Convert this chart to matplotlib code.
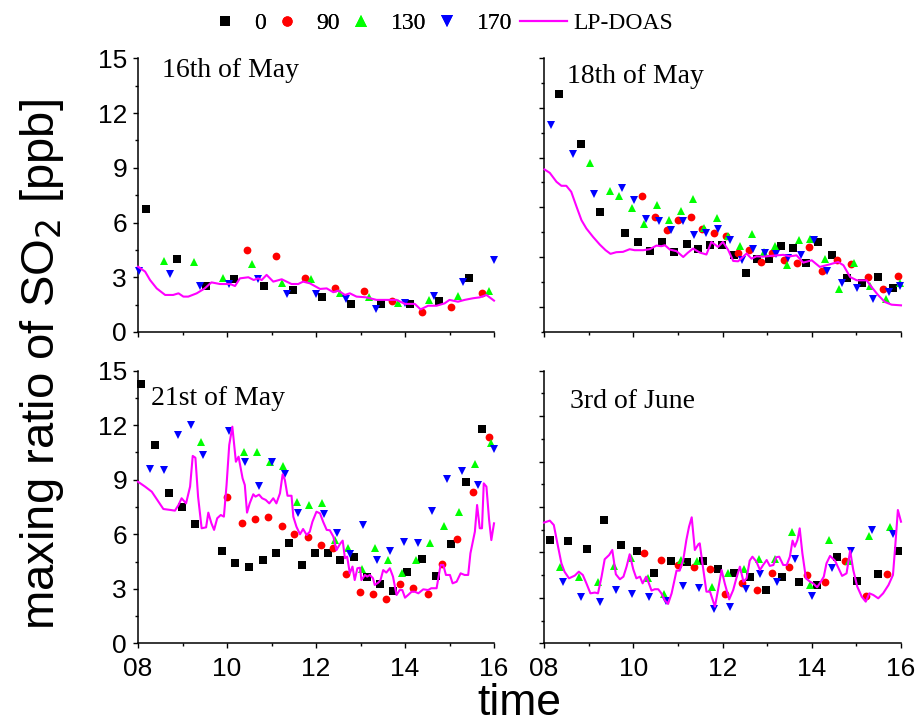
import matplotlib
matplotlib.use("Agg")
import matplotlib.pyplot as plt
from matplotlib.lines import Line2D
from matplotlib.ticker import MultipleLocator, FixedLocator

# ---------------- data ----------------
series_labels = ["0", "90", "130", "170", "LP-DOAS"]
panel_titles = ["16th of May", "18th of May", "21st of May", "3rd of June"]
xtick_vals = [8, 10, 12, 14, 16]
xtick_labels = ["08", "10", "12", "14", "16"]

# 16th of May
may16_t0 = [8.18, 8.87, 9.53, 10.16, 10.83, 11.49, 12.14, 12.79, 13.45, 14.11, 14.77, 15.44]
may16_v0 = [6.75, 4.02, 2.54, 2.91, 2.50, 2.30, 1.92, 1.52, 1.52, 1.54, 1.70, 2.94]
may16_t90 = [10.44, 11.09, 11.75, 12.42, 13.07, 13.71, 14.38, 15.04, 15.73]
may16_v90 = [4.48, 4.17, 2.94, 2.39, 2.25, 1.72, 1.12, 1.39, 2.12]
may16_t130 = [8.58, 9.26, 9.91, 10.57, 11.23, 11.88, 12.54, 13.19, 13.85, 14.53, 15.18, 15.89]
may16_v130 = [3.88, 3.82, 2.96, 3.71, 2.67, 2.89, 2.12, 1.94, 1.57, 1.77, 1.97, 2.27]
may16_t170 = [8.03, 8.72, 9.39, 10.05, 10.70, 11.34, 12.01, 12.67, 13.34, 14.00, 14.65, 15.31, 16.00]
may16_v170 = [3.36, 3.16, 2.52, 2.65, 2.89, 2.08, 2.08, 1.79, 1.24, 1.57, 1.99, 2.76, 3.97]
may16_tl = [8.0, 8.16, 8.27, 8.42, 8.61, 8.79, 8.91, 9.02, 9.13, 9.32, 9.50, 9.65, 9.84, 10.07, 10.18,
            10.29, 10.48, 10.60, 10.70, 10.78, 10.89, 11.04, 11.23, 11.45, 11.60, 11.71, 11.86, 12.09,
            12.24, 12.39, 12.50, 12.65, 12.76, 12.91, 13.13, 13.36, 13.58, 13.81, 14.0, 14.22, 14.35,
            14.52, 14.71, 14.89, 15.0, 15.19, 15.34, 15.53, 15.68, 15.83, 16.0]
may16_vl = [3.58, 3.31, 2.85, 2.39, 2.03, 2.03, 2.12, 1.94, 1.94, 2.12, 2.39, 2.72, 2.63, 2.63, 2.52,
            2.94, 3.00, 2.85, 2.94, 2.85, 3.13, 2.76, 2.89, 2.63, 2.63, 2.76, 2.67, 2.36, 2.39, 2.18,
            2.27, 2.03, 2.12, 1.94, 1.90, 1.76, 1.76, 1.76, 1.54, 1.54, 1.24, 1.44, 1.44, 1.57, 1.76,
            1.66, 1.76, 1.85, 1.90, 2.03, 1.72]

# 18th of May
may18_t0 = [8.34, 8.82, 9.26, 9.82, 10.10, 10.38, 10.65, 10.92, 11.20, 11.46, 11.72, 11.98, 12.25,
            12.52, 12.77, 13.04, 13.31, 13.59, 13.86, 14.15, 14.45, 14.78, 15.13, 15.49, 15.81]
may18_v0 = [12.82, 9.82, 5.69, 4.42, 3.93, 3.37, 3.89, 3.33, 3.79, 3.49, 3.71, 3.75, 3.15, 2.06,
            2.90, 2.86, 3.69, 3.55, 2.62, 3.93, 3.10, 1.75, 1.43, 1.77, 1.15]
may18_t90 = [10.20, 10.48, 10.75, 11.01, 11.29, 11.55, 11.81, 12.07, 12.34, 12.60, 12.87, 13.12,
             13.38, 13.66, 13.94, 14.24, 14.56, 14.88, 15.25, 15.60, 15.93]
may18_v90 = [6.69, 5.42, 4.62, 5.24, 5.42, 4.72, 4.44, 4.29, 3.27, 3.45, 2.70, 3.27, 2.82, 2.66,
             3.59, 2.16, 2.80, 2.56, 1.77, 1.05, 1.85]
may18_t130 = [9.03, 9.47, 9.68, 9.97, 10.24, 10.53, 10.80, 11.08, 11.34, 11.59, 11.87, 12.13, 12.39,
              12.65, 12.92, 13.18, 13.44, 13.71, 13.97, 14.30, 14.62, 14.95, 15.30, 15.66, 15.98]
may18_v130 = [8.69, 7.00, 6.67, 5.97, 5.02, 6.15, 5.26, 5.77, 6.49, 4.74, 5.36, 4.29, 3.67, 4.40,
              3.33, 3.69, 2.50, 4.05, 4.09, 2.86, 1.09, 2.64, 1.25, 0.44, 1.45]
may18_t170 = [8.16, 8.64, 9.11, 9.74, 10.01, 10.29, 10.57, 10.84, 11.11, 11.37, 11.64, 11.90, 12.17,
              12.43, 12.69, 12.96, 13.21, 13.47, 13.76, 14.05, 14.35, 14.67, 15.02, 15.38, 15.72, 15.98]
may18_v170 = [10.95, 9.19, 6.83, 7.16, 6.47, 5.30, 5.20, 4.60, 5.16, 4.35, 4.46, 4.70, 4.01, 2.80,
              3.47, 3.27, 3.17, 2.94, 3.10, 4.03, 2.16, 1.45, 1.13, 0.44, 0.89, 1.25]
may18_tl = [8.01, 8.13, 8.28, 8.39, 8.50, 8.61, 8.73, 8.84, 8.95, 9.10, 9.25, 9.38, 9.49, 9.62, 9.77,
            9.92, 10.03, 10.22, 10.37, 10.52, 10.63, 10.71, 10.82, 10.97, 11.12, 11.22, 11.34, 11.49,
            11.64, 11.75, 11.90, 12.01, 12.13, 12.24, 12.35, 12.54, 12.65, 12.76, 12.91, 13.14, 13.36,
            13.51, 13.66, 13.81, 14.0, 14.18, 14.41, 14.59, 14.71, 14.86, 15.01, 15.23, 15.34, 15.49,
            15.64, 15.79, 16.0]
may18_vl = [8.29, 8.08, 7.54, 7.30, 7.30, 6.94, 6.03, 5.22, 4.72, 4.21, 3.75, 3.41, 3.19, 3.29, 3.31,
            3.47, 3.41, 3.41, 3.47, 3.69, 3.65, 3.71, 3.45, 3.35, 3.00, 3.25, 3.51, 3.27, 3.15, 3.91,
            3.61, 3.91, 3.41, 2.76, 2.74, 3.21, 2.90, 3.04, 3.02, 3.08, 3.13, 3.04, 3.10, 2.66, 2.80,
            2.40, 2.56, 2.70, 2.50, 1.79, 1.59, 1.59, 1.19, 0.69, 0.28, 0.12, 0.08]

# 21st of May
may21_t0 = [8.07, 8.38, 8.69, 8.98, 9.28, 9.89, 10.19, 10.50, 10.80, 11.09, 11.40, 11.68, 11.97,
            12.27, 12.55, 12.85, 13.15, 13.44, 13.73, 14.05, 14.38, 14.69, 15.03, 15.37, 15.72]
may21_v0 = [14.27, 10.93, 8.27, 7.48, 6.55, 5.08, 4.42, 4.20, 4.58, 4.99, 5.50, 4.33, 4.99, 4.95,
            4.58, 4.77, 3.65, 3.26, 2.88, 3.92, 4.66, 3.72, 5.45, 8.88, 11.77]
may21_t90 = [10.01, 10.33, 10.63, 10.93, 11.23, 11.51, 11.81, 12.11, 12.39, 12.68, 12.98, 13.28,
             13.58, 13.88, 14.19, 14.52, 14.84, 15.17, 15.52, 15.89]
may21_v90 = [8.03, 6.62, 6.84, 6.93, 6.47, 6.01, 5.85, 5.43, 5.26, 3.83, 2.84, 2.73, 2.44, 3.28,
             3.03, 2.73, 4.38, 5.74, 8.34, 11.35]
may21_t130 = [9.41, 10.38, 10.67, 10.96, 11.26, 11.57, 11.85, 12.14, 12.42, 12.73, 13.04, 13.33,
              13.62, 13.94, 14.24, 14.56, 14.88, 15.22, 15.58, 15.94]
may21_v130 = [11.06, 10.51, 10.51, 9.99, 9.74, 7.78, 7.63, 7.70, 5.68, 5.26, 4.07, 5.24, 4.58, 3.87,
              4.58, 5.50, 6.47, 7.24, 9.87, 11.00]
may21_t170 = [8.28, 8.58, 8.89, 9.18, 9.47, 10.05, 10.41, 10.71, 11.00, 11.30, 11.59, 12.19, 12.48,
              12.77, 13.06, 13.36, 13.66, 13.97, 14.29, 14.61, 14.95, 15.28, 15.63, 15.99]
may21_v170 = [9.61, 9.54, 11.48, 12.03, 10.38, 11.70, 9.96, 8.67, 9.98, 9.32, 7.19, 7.12, 6.05, 4.93,
              6.51, 4.60, 5.10, 5.59, 5.52, 7.26, 9.04, 9.46, 8.69, 10.71]
may21_tl = [8.0, 8.16, 8.31, 8.46, 8.57, 8.72, 8.83, 8.91, 8.98, 9.08,
            9.17, 9.23, 9.29, 9.35, 9.43, 9.53, 9.58, 9.65, 9.71, 9.78,
            9.86, 9.93, 9.99, 10.05, 10.12, 10.20, 10.26, 10.35, 10.40, 10.45,
            10.51, 10.59, 10.64, 10.72, 10.79, 10.87, 10.95, 11.04, 11.11, 11.19,
            11.25, 11.30, 11.36, 11.45, 11.49, 11.56, 11.64, 11.71, 11.79, 11.86,
            11.92, 12.01, 12.09, 12.16, 12.24, 12.31, 12.39, 12.46, 12.54, 12.60,
            12.65, 12.70, 12.76, 12.82, 12.87, 12.93, 12.99, 13.02, 13.10, 13.15,
            13.21, 13.28, 13.32, 13.40, 13.45, 13.51, 13.58, 13.66, 13.73, 13.81,
            13.88, 13.94, 14.0, 14.07, 14.15, 14.22, 14.30, 14.41, 14.52, 14.59,
            14.71, 14.80, 14.86, 14.92, 15.01, 15.07, 15.16, 15.25, 15.34, 15.42,
            15.47, 15.57, 15.62, 15.68, 15.73, 15.77, 15.83, 15.89, 15.94, 16.0]
may21_vl = [8.89, 8.62, 8.34, 7.79, 7.39, 7.34, 7.30, 7.61, 7.98, 7.70,
            8.62, 10.31, 10.21, 8.07, 6.33, 6.38, 7.19, 6.60, 6.24, 6.88,
            7.06, 6.97, 8.71, 10.91, 11.92, 9.99, 10.27, 9.08, 8.71, 7.19,
            7.70, 8.20, 8.07, 8.18, 7.98, 7.89, 7.70, 7.98, 7.70, 8.25,
            9.30, 8.99, 8.12, 8.12, 6.97, 6.42, 6.00, 6.29, 5.96, 6.14,
            6.69, 7.24, 7.15, 6.69, 6.24, 6.22, 5.87, 5.13, 5.47, 5.65,
            4.68, 4.77, 3.85, 4.22, 3.48, 4.13, 4.16, 3.48, 3.76, 3.67,
            3.76, 3.58, 3.21, 3.34, 3.48, 4.03, 3.89, 4.13, 3.67, 2.66,
            2.93, 2.93, 2.51, 2.66, 2.84, 2.84, 2.75, 2.97, 2.93, 3.03,
            3.03, 4.31, 4.31, 3.76, 3.76, 3.30, 3.39, 3.85, 3.76, 3.76,
            4.95, 6.14, 7.61, 6.33, 6.33, 8.80, 8.62, 6.79, 5.68, 6.60]

# 3rd of June
jun3_t0 = [8.13, 8.54, 8.96, 9.35, 9.72, 10.09, 10.47, 10.85, 11.21, 11.56, 11.91, 12.26, 12.62,
           12.97, 13.34, 13.71, 14.11, 14.57, 15.02, 15.49, 15.94]
jun3_v0 = [6.82, 6.78, 6.25, 8.16, 6.47, 6.07, 4.67, 5.46, 5.35, 5.46, 4.89, 4.62, 4.36, 3.50,
           4.36, 4.03, 3.85, 5.68, 4.12, 4.60, 6.12]
jun3_t90 = [10.25, 10.62, 11.0, 11.36, 11.71, 12.05, 12.43, 12.77, 13.12, 13.50, 13.89, 14.30,
            14.75, 15.21, 15.68]
jun3_v90 = [5.99, 5.50, 5.19, 5.06, 4.93, 3.24, 4.01, 3.54, 4.67, 5.04, 4.51, 4.07, 5.46, 3.15, 4.60]
jun3_t130 = [8.36, 8.79, 9.20, 9.56, 9.94, 10.32, 10.69, 11.06, 11.42, 11.77, 12.13, 12.49, 12.82,
             13.18, 13.56, 13.95, 14.38, 14.83, 15.28, 15.75]
jun3_v130 = [5.06, 4.38, 4.05, 5.11, 5.66, 4.31, 3.26, 5.48, 5.46, 3.70, 4.62, 4.93, 5.55, 5.59,
             7.33, 3.85, 6.80, 5.44, 7.09, 7.70]
jun3_t170 = [8.43, 8.83, 9.25, 9.62, 9.98, 10.36, 10.74, 11.11, 11.47, 11.82, 12.16, 12.53, 12.85,
             13.23, 13.62, 14.01, 14.45, 14.89, 15.34, 15.81]
jun3_v170 = [4.07, 3.04, 2.73, 3.50, 3.24, 3.08, 2.82, 3.81, 3.68, 2.24, 2.38, 3.61, 4.56, 4.07,
             5.59, 3.15, 5.00, 6.10, 7.46, 7.20]
jun3_tl = [8.0, 8.13, 8.22, 8.30, 8.39, 8.46, 8.56, 8.69, 8.78, 8.87,
           8.95, 9.04, 9.14, 9.21, 9.29, 9.36, 9.46, 9.53, 9.61, 9.70,
           9.78, 9.85, 9.92, 10.0, 10.07, 10.15, 10.21, 10.29, 10.35, 10.41,
           10.48, 10.56, 10.63, 10.71, 10.78, 10.86, 10.97, 11.04, 11.12, 11.19,
           11.25, 11.31, 11.38, 11.46, 11.49, 11.55, 11.64, 11.72, 11.83, 11.90,
           11.98, 12.05, 12.15, 12.24, 12.31, 12.39, 12.47, 12.54, 12.61, 12.67,
           12.76, 12.84, 12.91, 12.99, 13.06, 13.14, 13.20, 13.27, 13.36, 13.44,
           13.51, 13.57, 13.62, 13.68, 13.73, 13.79, 13.87, 13.96, 14.03, 14.12,
           14.18, 14.27, 14.33, 14.41, 14.52, 14.59, 14.68, 14.78, 14.86, 14.93,
           15.02, 15.12, 15.21, 15.29, 15.38, 15.49, 15.60, 15.72, 15.82, 15.87,
           15.93, 16.0]
jun3_vl = [7.97, 8.10, 7.81, 6.60, 5.28, 4.73, 4.29, 4.47, 4.73, 4.51,
           3.96, 3.30, 3.35, 3.30, 4.40, 5.55, 5.83, 6.16, 4.56, 4.23,
           4.40, 5.06, 5.88, 4.89, 4.29, 4.40, 3.96, 4.40, 3.96, 3.48,
           3.57, 3.57, 3.30, 2.82, 2.60, 3.30, 4.80, 4.80, 5.50, 6.82,
           7.70, 8.32, 6.16, 6.54, 6.60, 5.28, 3.41, 3.41, 2.42, 3.52,
           4.84, 3.96, 2.90, 3.52, 4.29, 5.06, 4.07, 4.29, 5.46, 5.72,
           5.39, 4.84, 5.17, 5.50, 5.11, 5.17, 5.68, 5.72, 5.17, 5.17,
           5.72, 6.78, 6.38, 6.82, 7.59, 5.94, 4.29, 4.07, 3.96, 3.70,
           3.96, 4.40, 5.28, 5.77, 5.46, 5.02, 4.45, 4.62, 6.12, 4.84,
           3.74, 3.08, 2.75, 3.30, 3.19, 2.97, 3.30, 3.85, 4.51, 6.38,
           8.80, 8.03]

# ---------------- figure ----------------
W, H = 919, 726
fig = plt.figure(figsize=(W / 100, H / 100), dpi=100)

SANS = ["Liberation Sans", "DejaVu Sans"]
SERIF = ["Liberation Serif", "DejaVu Serif"]

colors = ["#000000", "#ff0000", "#00ff00", "#0000ff", "#ff00ff"]
markers = ["s", "o", "^", "v"]
msizes = [5.2, 5.6, 6.0, 6.0]
leg_msizes = [7.2, 7.4, 8.6, 8.6]

def px_axes(x0, y_top, x1, y_bot):
    return fig.add_axes([x0 / W, 1 - y_bot / H, (x1 - x0) / W, (y_bot - y_top) / H])

axes_rects = [(138, 58.3, 494, 332.0), (544, 58.3, 901, 331.5),
              (138, 370.7, 494, 643.3), (544, 370.7, 901, 643.3)]
ylims = [(0, 15), (-1.5, 15), (0, 15), (0, 18)]
title_pos = [(0.067, 0.93), (0.064, 0.91), (0.037, 0.875), (0.073, 0.864)]

panels = [
    (may16_t0, may16_v0, may16_t90, may16_v90, may16_t130, may16_v130, may16_t170, may16_v170, may16_tl, may16_vl),
    (may18_t0, may18_v0, may18_t90, may18_v90, may18_t130, may18_v130, may18_t170, may18_v170, may18_tl, may18_vl),
    (may21_t0, may21_v0, may21_t90, may21_v90, may21_t130, may21_v130, may21_t170, may21_v170, may21_tl, may21_vl),
    (jun3_t0, jun3_v0, jun3_t90, jun3_v90, jun3_t130, jun3_v130, jun3_t170, jun3_v170, jun3_tl, jun3_vl),
]

for i, (rect, data) in enumerate(zip(axes_rects, panels)):
    ax = px_axes(*rect)
    for k in range(4):
        ax.plot(data[2 * k], data[2 * k + 1], linestyle="none", marker=markers[k],
                markersize=msizes[k], color=colors[k], markeredgewidth=0, clip_on=False, zorder=3)
    ax.plot(data[8], data[9], color=colors[4], linewidth=1.5, zorder=4, clip_on=False)

    ax.set_xlim(8, 16)
    ax.set_ylim(*ylims[i])
    ax.xaxis.set_major_locator(FixedLocator(xtick_vals))
    ax.xaxis.set_minor_locator(MultipleLocator(1))
    ax.yaxis.set_major_locator(MultipleLocator(3))
    ax.yaxis.set_minor_locator(MultipleLocator(1.5))
    for s in ["top", "right"]:
        ax.spines[s].set_visible(False)
    for s in ["left", "bottom"]:
        ax.spines[s].set_linewidth(1.1)
    ax.tick_params(which="major", direction="out", length=3.4, width=1.0, labelsize=19)
    ax.tick_params(which="minor", direction="out", length=2.0, width=1.0)
    ax.tick_params(axis="x", which="major", pad=6.5)
    ax.tick_params(axis="y", which="major", pad=4.5)
    ax.patch.set_alpha(0)

    if i < 2:
        ax.set_xticklabels([])
    else:
        ax.set_xticklabels(xtick_labels, fontfamily=SANS)
    if i % 2 == 1:
        ax.set_yticklabels([])
    else:
        ax.set_yticks([0, 3, 6, 9, 12, 15])
        ax.set_yticklabels(["0", "3", "6", "9", "12", "15"], fontfamily=SANS)

    ax.text(title_pos[i][0], title_pos[i][1], panel_titles[i], transform=ax.transAxes,
            fontsize=20, fontfamily=SERIF, ha="left", va="baseline")

# axis labels
fig.text(42 / W, 1 - 365 / H, r"maxing ratio of SO$_2$ [ppb]", rotation=90, ha="center",
         va="center", fontsize=34, fontfamily=SANS)
fig.text(519 / W, 1 - 715 / H, "time", ha="center", va="baseline", fontsize=32, fontfamily=SANS)

# legend: marker series
mhandles = [Line2D([], [], linestyle="none", marker=markers[k], markersize=leg_msizes[k],
                   color=colors[k], markeredgewidth=0) for k in range(4)]
leg1 = fig.legend(mhandles, series_labels[:4], loc="center left", bbox_to_anchor=(210 / W, 1 - 23 / H),
                  ncol=4, frameon=False, handlelength=1.27, handletextpad=0.614, columnspacing=0.254,
                  prop={"family": SERIF, "size": 17}, borderaxespad=0, borderpad=0)
# legend: LP-DOAS line
lhandle = [Line2D([], [], color=colors[4], linewidth=1.6)]
fig.legend(lhandle, series_labels[4:], loc="center left", bbox_to_anchor=(520 / W, 1 - 23 / H),
           frameon=False, handlelength=1.99, handletextpad=0.254,
           prop={"family": SERIF, "size": 17}, borderaxespad=0, borderpad=0)
fig.add_artist(leg1)

fig.savefig("out.png", dpi=100)
